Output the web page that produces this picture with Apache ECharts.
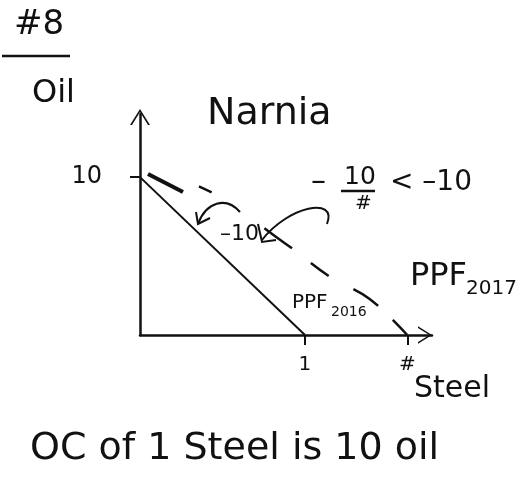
<!DOCTYPE html>
<html>
<head>
<meta charset="utf-8">
<script src="https://cdn.jsdelivr.net/npm/echarts@6/dist/echarts.min.js"></script>
<style>
  html, body { margin: 0; padding: 0; background: #fff; }
  #chart { width: 531px; height: 497px; }
</style>
</head>
<body>
<div id="chart"></div>
<script>
// Narnia production possibilities: oil against steel, two years
const ppf2016Steel = [0, 1];
const ppf2016Oil = [10, 0];
const ppf2017Steel = [0, 0.36, 0.88, 1.15, 1.39, 1.62];
const ppf2017Oil = [10, 9.4, 5.8, 3.7, 2.3, 0];
const xTickValues = [1, 1.62];
const xTickLabels = ['1', '#'];
const yTickValues = [10];
const yTickLabels = ['10'];

const FONT = 'DejaVu Sans';
const INK = '#111';
// open chevron used as arrow head on both axes
const CHEVRON = 'path://M0,16 L10,0 L20,16 L18,16 L10,3 L2,16 Z';
// uneven hand-drawn dashes along the 2017 frontier
const DASHES_2017 = [0, 60, 14, 64, 34, 24, 22, 28, 30, 20, 30, 40];

const chart = echarts.init(document.getElementById('chart'), null, { renderer: 'canvas' });

const zip = (xs, ys) => xs.map((x, i) => [x, ys[i]]);
const txt = (left, top, text, size) => ({
  type: 'text', left, top,
  style: { text, fontFamily: FONT, fontSize: size, fill: INK }
});

chart.setOption({
  backgroundColor: '#fff',
  animation: false,
  grid: { left: 140, top: 114, width: 292, height: 221, containLabel: false },
  xAxis: {
    type: 'value', min: 0, max: 1.77,
    splitLine: { show: false },
    axisLine: { show: true, lineStyle: { color: INK, width: 2.5 }, symbol: ['none', CHEVRON], symbolSize: [20, 14], symbolOffset: [0, -7] },
    axisTick: { show: true, customValues: xTickValues, length: 10, lineStyle: { color: INK, width: 2 } },
    axisLabel: {
      customValues: xTickValues,
      margin: 20, color: INK, fontFamily: FONT, fontSize: 20,
      formatter: v => xTickLabels[xTickValues.indexOf(v)] ?? ''
    }
  },
  yAxis: {
    type: 'value', min: 0, max: 14,
    splitLine: { show: false },
    axisLine: { show: true, lineStyle: { color: INK, width: 2.5 }, symbol: ['none', CHEVRON], symbolSize: [24, 16], symbolOffset: [0, -3] },
    axisTick: { show: true, customValues: yTickValues, length: 10, lineStyle: { color: INK, width: 2 } },
    axisLabel: {
      customValues: yTickValues,
      margin: 38, color: INK, fontFamily: FONT, fontSize: 24,
      formatter: v => yTickLabels[yTickValues.indexOf(v)] ?? ''
    }
  },
  series: [
    {
      name: 'PPF2016', type: 'line', data: zip(ppf2016Steel, ppf2016Oil),
      symbol: 'none', lineStyle: { color: INK, width: 2 }, z: 3
    },
    {
      name: 'PPF2017', type: 'line', data: zip(ppf2017Steel, ppf2017Oil),
      smooth: 0.4, symbol: 'none',
      lineStyle: { color: INK, width: 2.5, type: DASHES_2017 }, z: 3
    }
  ],
  graphic: [
    txt(14, 8, '#8', 34),
    { type: 'line', shape: { x1: 2, y1: 56, x2: 70, y2: 56 }, style: { stroke: INK, lineWidth: 2.5 } },
    txt(32, 78, 'Oil', 32),
    txt(207, 95, 'Narnia', 38),
    txt(311, 167, '–', 30),
    txt(344, 165, '10', 25),
    { type: 'line', shape: { x1: 341, y1: 191, x2: 375, y2: 191 }, style: { stroke: INK, lineWidth: 2.5 } },
    txt(355, 194, '#', 20),
    txt(390, 169, '< –10', 28),
    txt(220, 223, '–10', 22),
    // marks scribbled next to the curves
    { type: 'line', shape: { x1: 148, y1: 174, x2: 183, y2: 192 }, style: { stroke: INK, lineWidth: 4 } },
    { type: 'bezierCurve', shape: { x1: 262, y1: 240, cpx1: 288, cpy1: 206, cpx2: 338, cpy2: 196, x2: 327, y2: 224 }, style: { stroke: INK, lineWidth: 2, fill: null } },
    { type: 'polyline', shape: { points: [[258, 224], [262, 242], [276, 240]] }, style: { stroke: INK, lineWidth: 2, fill: null } },
    { type: 'bezierCurve', shape: { x1: 240, y1: 212, cpx1: 226, cpy1: 196, cpx2: 206, cpy2: 202, x2: 198, y2: 224 }, style: { stroke: INK, lineWidth: 2, fill: null } },
    { type: 'polyline', shape: { points: [[196, 212], [198, 224], [210, 218]] }, style: { stroke: INK, lineWidth: 2, fill: null } },
    txt(410, 261, 'PPF', 32),
    txt(466, 279, '2017', 20),
    txt(292, 293, 'PPF', 20),
    txt(331, 305, '2016', 14),
    txt(414, 374, 'Steel', 30),
    txt(30, 430, 'OC of 1 Steel is 10 oil', 38)
  ]
});
</script>
</body>
</html>
